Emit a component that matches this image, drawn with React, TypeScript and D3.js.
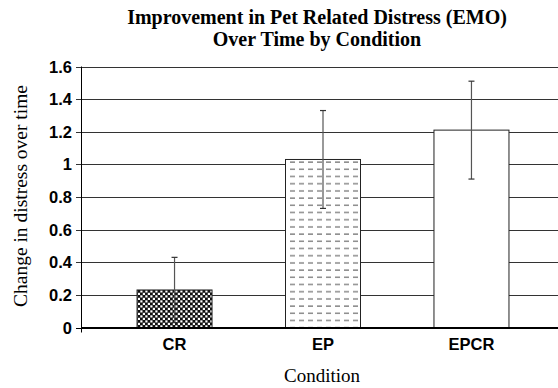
import React from "react";
import * as d3 from "d3";

const categories = ["CR", "EP", "EPCR"];
const means = [0.23, 1.03, 1.21];
const errors = [0.2, 0.3, 0.3];
const yTicks = [0, 0.2, 0.4, 0.6, 0.8, 1, 1.2, 1.4, 1.6];
const fills = ["url(#checker)", "url(#dashes)", "#ffffff"];

const W = 558;
const H = 388;
const left = 81;
const top = 66.5;
const bottom = 327.5;

const serif = "Liberation Serif, Times New Roman, serif";
const sans = "Liberation Sans, Arial, sans-serif";

export default function App() {
  const y = d3.scaleLinear().domain([0, 1.6]).range([bottom, top]);
  const x = d3.scalePoint<string>().domain(categories).range([left, 565]).padding(0.63);
  const barW = 75;
  const fmt = (v: number) => (v === 0 || v === 1 ? String(v) : d3.format(".1f")(v));

  return (
    <svg width={W} height={H} style={{ position: "absolute", left: 0, top: 0 }}>
      <defs>
        <pattern id="checker" width={5} height={5} patternUnits="userSpaceOnUse">
          <rect width={5} height={5} fill="#111" />
          <rect x={0.3} y={0.3} width={2.2} height={2.2} fill="#fff" />
          <rect x={2.8} y={2.8} width={2.2} height={2.2} fill="#fff" />
        </pattern>
        <pattern id="dashes" width={9} height={7.2} patternUnits="userSpaceOnUse">
          <rect width={9} height={7.2} fill="#fff" />
          <rect x={2} y={3} width={5} height={1.5} fill="#8a8a8a" />
        </pattern>
      </defs>
      <rect width={W} height={H} fill="#fff" />
      <text x={317} y={24} textAnchor="middle" fontFamily={serif} fontWeight="bold" fontSize={20}>
        Improvement in Pet Related Distress (EMO)
      </text>
      <text x={317} y={46} textAnchor="middle" fontFamily={serif} fontWeight="bold" fontSize={20}>
        Over Time by Condition
      </text>
      {yTicks.map((t) => (
        <g key={t}>
          <line x1={left - 5} x2={W} y1={Math.round(y(t)) + 0.5} y2={Math.round(y(t)) + 0.5} stroke={t === 0 ? "#000" : "#333"} strokeWidth={1} />
          <text x={72} y={y(t) + 6} textAnchor="end" fontFamily={sans} fontWeight="bold" fontSize={16.5}>
            {fmt(t)}
          </text>
        </g>
      ))}
      <line x1={left + 0.5} x2={left + 0.5} y1={top} y2={bottom + 5} stroke="#000" />
      {categories.map((c, i) => {
        const cx = x(c)!;
        return (
          <g key={c}>
            <rect x={cx - barW / 2} y={y(means[i])} width={barW} height={bottom - y(means[i])} fill={fills[i]} stroke="#222" strokeWidth={1} />
            <line x1={cx} x2={cx} y1={y(means[i] + errors[i])} y2={y(means[i] - errors[i])} stroke="#555" strokeWidth={1.2} />
            <line x1={cx - 3} x2={cx + 3} y1={y(means[i] + errors[i])} y2={y(means[i] + errors[i])} stroke="#333" strokeWidth={1.2} />
            <line x1={cx - 3} x2={cx + 3} y1={y(means[i] - errors[i])} y2={y(means[i] - errors[i])} stroke="#333" strokeWidth={1.2} />
            <text x={cx} y={350} textAnchor="middle" fontFamily={sans} fontWeight="bold" fontSize={16.5}>
              {c}
            </text>
          </g>
        );
      })}
      <line x1={left} x2={W} y1={bottom} y2={bottom} stroke="#000" />
      <text x={322} y={382} textAnchor="middle" fontFamily={serif} fontSize={19}>
        Condition
      </text>
      <text transform={`translate(27,196) rotate(-90)`} textAnchor="middle" fontFamily={serif} fontSize={19.5}>
        Change in distress over time
      </text>
    </svg>
  );
}
